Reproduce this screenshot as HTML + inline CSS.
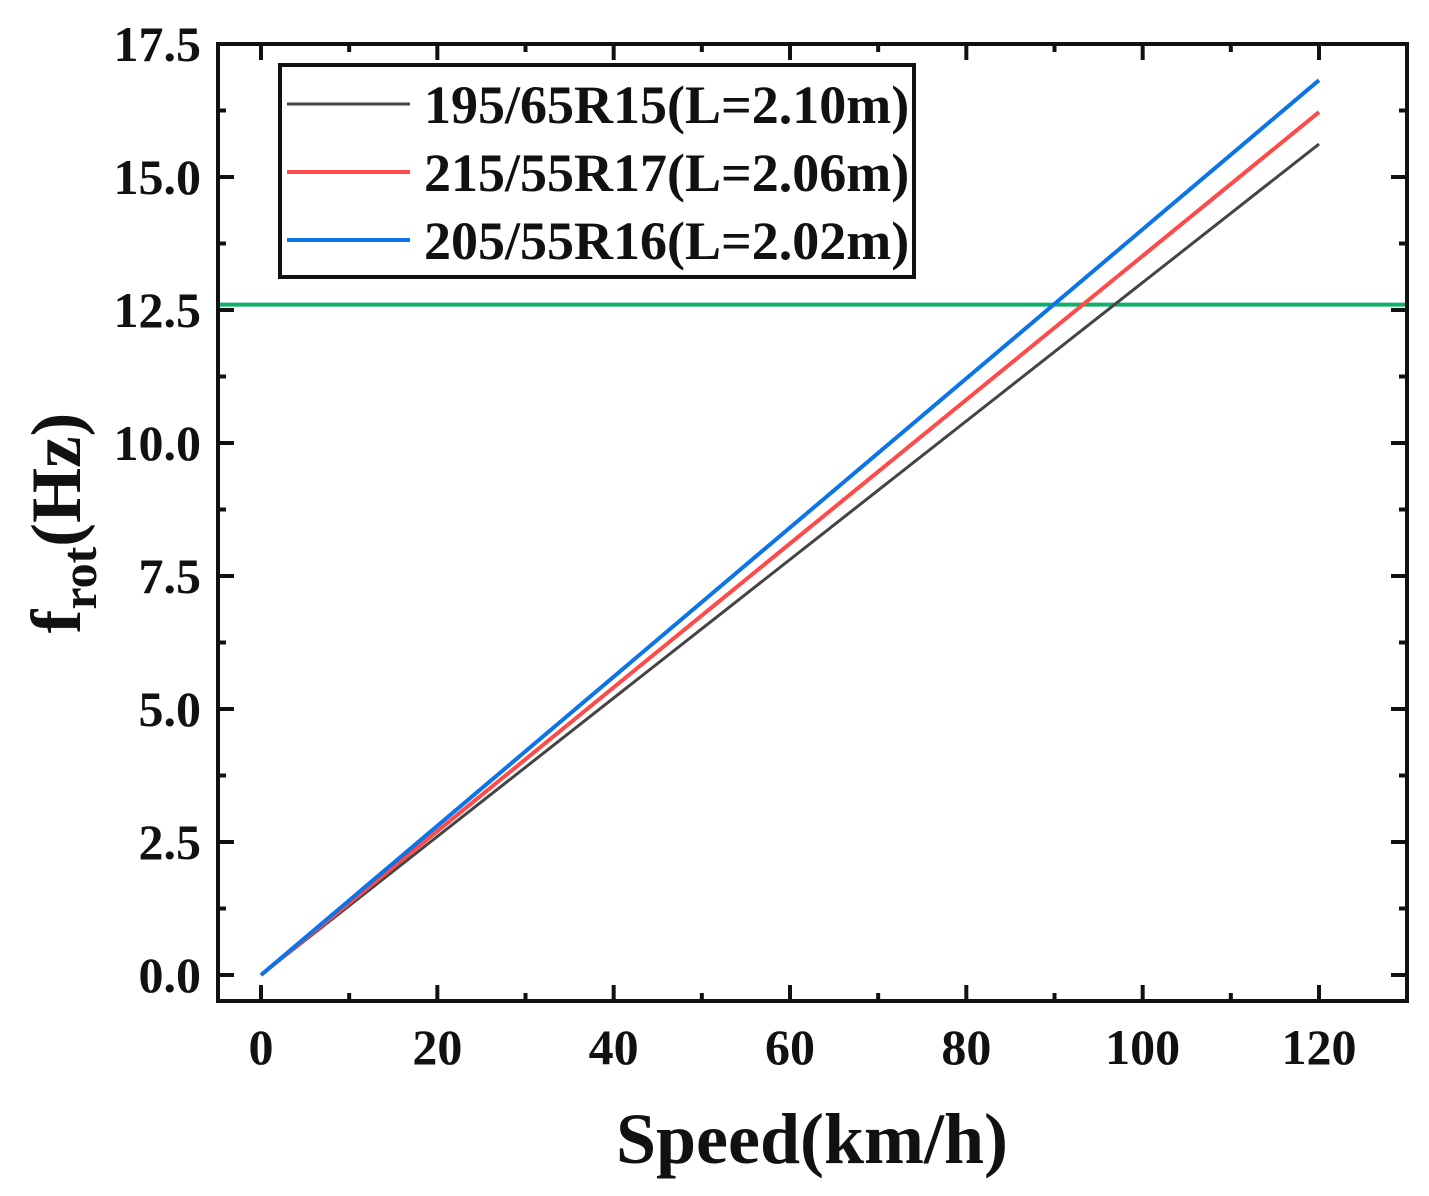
<!DOCTYPE html>
<html><head><meta charset="utf-8"><style>
body{margin:0;background:#fff;}
svg text{font-family:"Liberation Serif",serif;font-weight:bold;fill:#111;}
</style></head><body>
<svg id="chart" width="1429" height="1191" viewBox="0 0 1429 1191" xmlns="http://www.w3.org/2000/svg">
<g id="grid"></g>
<g id="series"></g>
<rect x="218" y="44" width="1189" height="957" fill="none" stroke="#111" stroke-width="4"/>
<g id="ticks"></g>
<text x="812" y="1163" font-size="72" text-anchor="middle">Speed(km/h)</text>
<text transform="translate(80,523) rotate(-90)" font-size="71" text-anchor="middle">f<tspan font-size="50" dy="16">rot</tspan><tspan dy="-16">(Hz)</tspan></text>
<g>
<rect x="280" y="65" width="634" height="212" fill="#fff" stroke="#111" stroke-width="4"/>
<g id="legend-entries"></g>
</g>
</svg>
<script>
const categories=[0,120];
const seriesNames=["195/65R15(L=2.10m)","215/55R17(L=2.06m)","205/55R16(L=2.02m)"];
const seriesColors=["#444","#ff4a4a","#0a74e8"];
const series195=[0,15.62];
const series215=[0,16.22];
const series205=[0,16.82];
const thresholdValue=[12.6];
const xTicks=[0,20,40,60,80,100,120];
const yTicks=[0.0,2.5,5.0,7.5,10.0,12.5,15.0,17.5];
const NS="http://www.w3.org/2000/svg";
const X=v=>261+(v)*(1319-261)/120;
const Y=v=>975-v*(975-44)/17.5;
function mk(tag,attrs,parent){const e=document.createElementNS(NS,tag);for(const k in attrs)e.setAttribute(k,attrs[k]);parent.appendChild(e);return e;}
const ticks=document.getElementById('ticks');
xTicks.forEach(v=>{
 const t=mk('line',{x1:X(v),x2:X(v),y1:1001,y2:985,stroke:'#111','stroke-width':4},ticks);
 
 
 const t2=mk('line',{x1:X(v),x2:X(v),y1:44,y2:60,stroke:'#111','stroke-width':4},ticks);
 
 
 const l=mk('text',{x:X(v),y:1064,'font-size':50,'text-anchor':'middle'},ticks);l.textContent=v;
 
 
 if(v<120){const m=v+10;
 const a=mk('line',{x1:X(m),x2:X(m),y1:1001,y2:993,stroke:'#111','stroke-width':4},ticks);
 
 
 const b=mk('line',{x1:X(m),x2:X(m),y1:44,y2:52,stroke:'#111','stroke-width':4},ticks);
 
 }
});
yTicks.forEach(v=>{
 const t=mk('line',{x1:218,x2:234,y1:Y(v),y2:Y(v),stroke:'#111','stroke-width':4},ticks);
 
 
 const t2=mk('line',{x1:1391,x2:1407,y1:Y(v),y2:Y(v),stroke:'#111','stroke-width':4},ticks);
 
 
 const l=mk('text',{x:201,y:Y(v)+17,'font-size':50,'text-anchor':'end'},ticks);l.textContent=v.toFixed(1);
 
 
 if(v<17.5){const m=v+1.25;
 const a=mk('line',{x1:218,x2:226,y1:Y(m),y2:Y(m),stroke:'#111','stroke-width':4},ticks);
 
 
 const b=mk('line',{x1:1399,x2:1407,y1:Y(m),y2:Y(m),stroke:'#111','stroke-width':4},ticks);
 
 }
});
const sg=document.getElementById('series');
const g=mk('line',{x1:218,x2:1407,y1:Y(thresholdValue[0]),y2:Y(thresholdValue[0]),stroke:'#10b06a','stroke-width':4},sg);


[series195,series215,series205].forEach((s,i)=>{
 const p=mk('polyline',{points:categories.map((c,j)=>X(c)+','+Y(s[j])).join(' '),fill:'none',stroke:seriesColors[i],'stroke-width':i==0?3:4},sg);
 
 
});
const lg=document.getElementById('legend-entries');
seriesNames.forEach((n,i)=>{
 const y=104+i*68;
 const ln=mk('line',{x1:287,x2:410,y1:y,y2:y,stroke:seriesColors[i],'stroke-width':i==0?3:4},lg);
 
 
 const t=mk('text',{x:424,y:y+19,'font-size':54},lg);t.textContent=n;
 
 
});
</script>
</body></html>
